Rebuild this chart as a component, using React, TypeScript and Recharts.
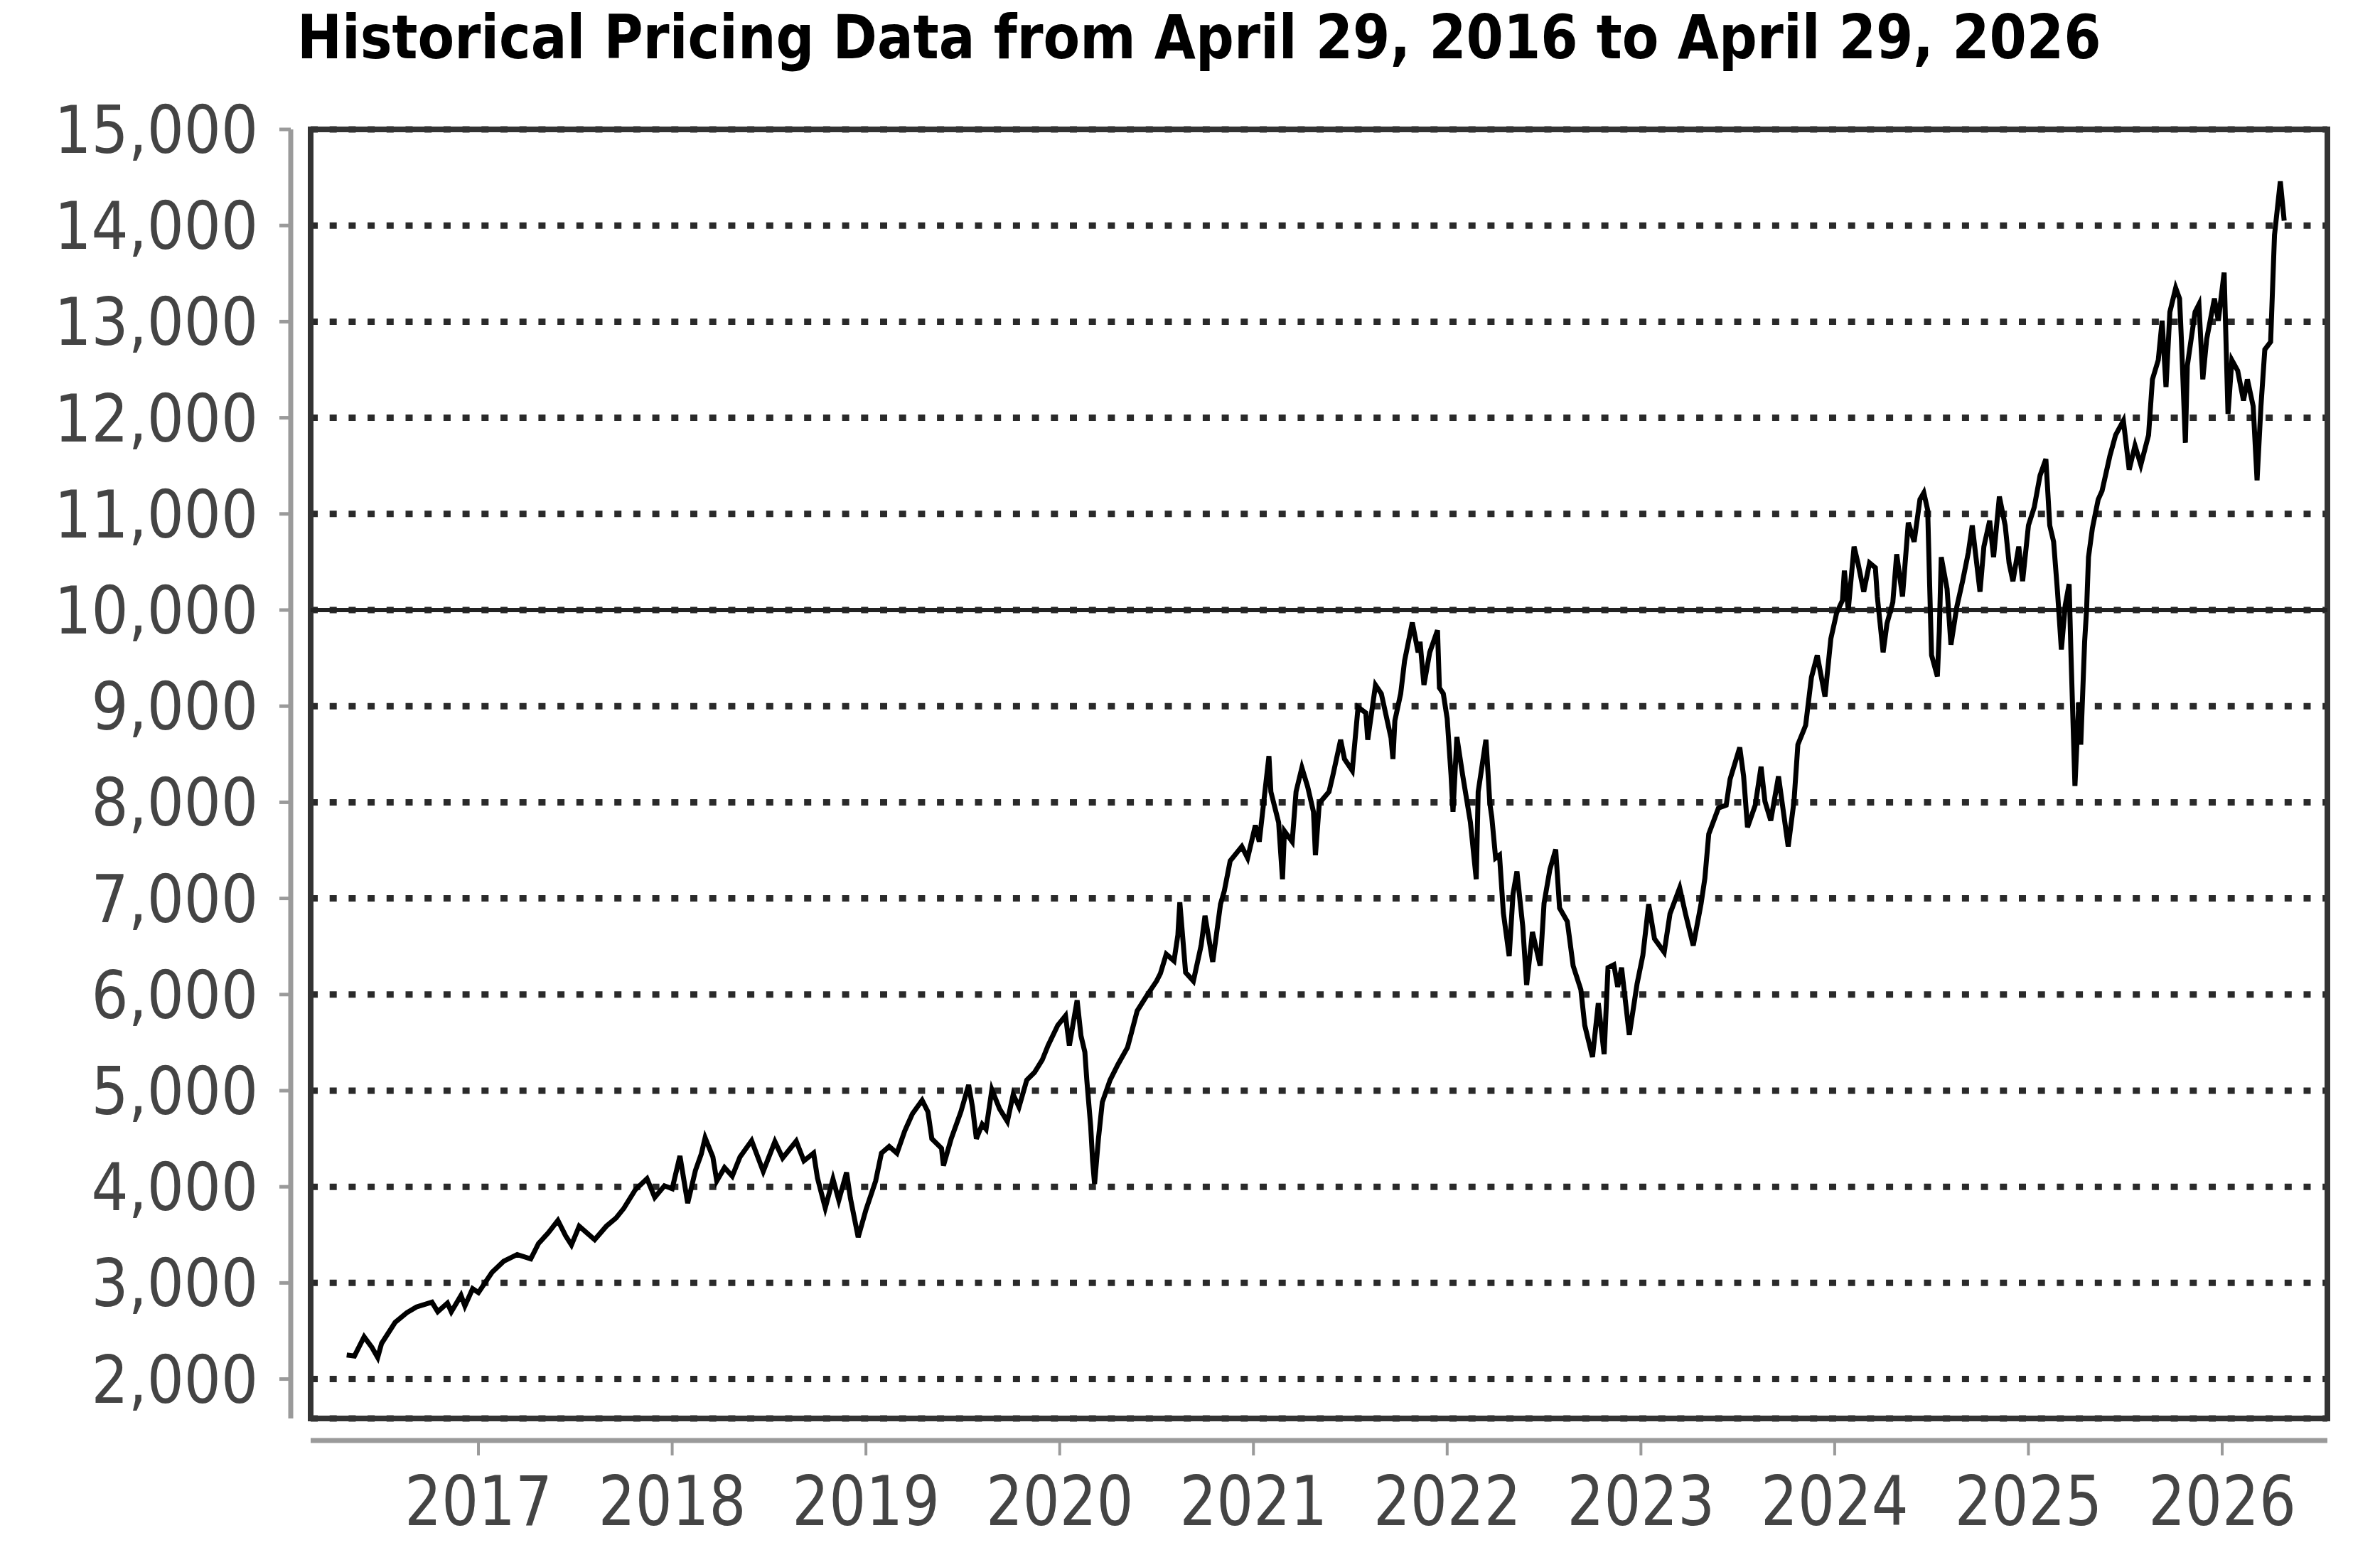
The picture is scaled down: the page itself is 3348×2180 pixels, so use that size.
import {
  CartesianGrid,
  Line,
  LineChart,
  ReferenceArea,
  ReferenceLine,
  XAxis,
  YAxis,
} from "recharts";

// decimal years (roughly weekly/bi-weekly swings)
const dates = [
  2016.32, 2016.36, 2016.41, 2016.45, 2016.48, 2016.5, 2016.57, 2016.63, 2016.68, 2016.76,
  2016.79, 2016.84, 2016.86, 2016.91, 2016.93, 2016.97, 2017.0, 2017.07, 2017.13, 2017.2,
  2017.27, 2017.31, 2017.36, 2017.41, 2017.45, 2017.48, 2017.52, 2017.6, 2017.66, 2017.71,
  2017.75, 2017.81, 2017.87, 2017.91, 2017.96, 2018.0, 2018.04, 2018.08, 2018.12, 2018.15,
  2018.17, 2018.21, 2018.23, 2018.27, 2018.31, 2018.35, 2018.41, 2018.47, 2018.53, 2018.57,
  2018.64, 2018.68, 2018.73, 2018.75, 2018.79, 2018.83, 2018.86, 2018.9, 2018.92, 2018.96,
  2019.0, 2019.05, 2019.08, 2019.12, 2019.16, 2019.2, 2019.24, 2019.29, 2019.32, 2019.34,
  2019.39, 2019.4, 2019.44, 2019.49, 2019.53, 2019.55, 2019.57, 2019.6, 2019.62, 2019.65,
  2019.69, 2019.73, 2019.76, 2019.79, 2019.83, 2019.87, 2019.91, 2019.94, 2019.99, 2020.03,
  2020.05, 2020.09, 2020.11, 2020.13, 2020.14, 2020.16, 2020.17, 2020.18, 2020.2, 2020.22,
  2020.26, 2020.3, 2020.35, 2020.37, 2020.4, 2020.45, 2020.5, 2020.52, 2020.55, 2020.59,
  2020.61, 2020.62, 2020.65, 2020.69, 2020.73, 2020.75, 2020.79, 2020.83, 2020.85, 2020.88,
  2020.94, 2020.97, 2021.01, 2021.03, 2021.08, 2021.09, 2021.13, 2021.15, 2021.16, 2021.2,
  2021.22, 2021.25, 2021.28, 2021.31, 2021.32, 2021.34, 2021.39, 2021.41, 2021.45, 2021.47,
  2021.51, 2021.54, 2021.58, 2021.59, 2021.63, 2021.66, 2021.71, 2021.72, 2021.73, 2021.76,
  2021.78, 2021.82, 2021.85, 2021.86, 2021.88, 2021.91, 2021.95, 2021.96, 2021.98, 2022.0,
  2022.02, 2022.03, 2022.05, 2022.08, 2022.12, 2022.15, 2022.16, 2022.2, 2022.21, 2022.22,
  2022.23, 2022.25, 2022.27, 2022.29, 2022.32, 2022.34, 2022.36, 2022.39, 2022.41, 2022.44,
  2022.48, 2022.5, 2022.53, 2022.56, 2022.58, 2022.62, 2022.65, 2022.69, 2022.71, 2022.75,
  2022.78, 2022.81, 2022.83, 2022.86, 2022.88, 2022.9, 2022.94, 2022.98, 2023.01, 2023.04,
  2023.07, 2023.12, 2023.15, 2023.2, 2023.23, 2023.27, 2023.31, 2023.33, 2023.35, 2023.4,
  2023.44, 2023.46, 2023.51, 2023.53, 2023.55, 2023.59, 2023.62, 2023.64, 2023.67, 2023.71,
  2023.76, 2023.79, 2023.81, 2023.85, 2023.88, 2023.91, 2023.95, 2023.98, 2024.01, 2024.04,
  2024.05, 2024.07, 2024.1, 2024.12, 2024.15, 2024.18, 2024.21, 2024.22, 2024.25, 2024.27,
  2024.3, 2024.32, 2024.35, 2024.38, 2024.41, 2024.44, 2024.46, 2024.48, 2024.49, 2024.5,
  2024.53, 2024.54, 2024.55, 2024.58, 2024.6, 2024.63, 2024.66, 2024.69, 2024.71, 2024.75,
  2024.77, 2024.8, 2024.82, 2024.85, 2024.88, 2024.9, 2024.92, 2024.95, 2024.97, 2025.0,
  2025.03, 2025.06, 2025.09, 2025.11, 2025.13, 2025.15, 2025.17, 2025.19, 2025.21, 2025.22,
  2025.24, 2025.26, 2025.27, 2025.29, 2025.3, 2025.31, 2025.33, 2025.36, 2025.38, 2025.42,
  2025.45, 2025.49, 2025.52, 2025.55, 2025.58, 2025.62, 2025.64, 2025.67, 2025.69, 2025.71,
  2025.73, 2025.76, 2025.78, 2025.79, 2025.81, 2025.82, 2025.86, 2025.88, 2025.9, 2025.92,
  2025.96, 2025.98, 2026.01, 2026.03, 2026.05, 2026.08, 2026.11, 2026.13, 2026.16, 2026.18,
  2026.2, 2026.22, 2026.25, 2026.27, 2026.3, 2026.32,
];

const prices = [
  2250, 2240, 2440, 2330, 2225, 2370, 2590, 2690, 2750, 2800,
  2700, 2790, 2700, 2870, 2760, 2940, 2900, 3110, 3225, 3295,
  3250, 3410, 3520, 3650, 3490, 3395, 3590, 3450, 3590, 3675,
  3775, 3970, 4085, 3890, 4010, 3980, 4320, 3830, 4170, 4340,
  4510, 4310, 4060, 4200, 4110, 4310, 4480, 4160, 4470, 4300,
  4475, 4270, 4350, 4090, 3780, 4080, 3860, 4150, 3880, 3475,
  3760, 4060, 4350, 4420, 4350, 4580, 4760, 4900, 4780, 4500,
  4400, 4220, 4500, 4780, 5060, 4830, 4500, 4650, 4600, 5010,
  4810, 4680, 4960, 4830, 5110, 5190, 5320, 5470, 5680, 5780,
  5470, 5940, 5570, 5400, 5110, 4630, 4270, 4030, 4500, 4880,
  5110, 5270, 5450, 5600, 5830, 5990, 6140, 6220, 6420, 6350,
  6620, 6960, 6230, 6140, 6510, 6820, 6340, 6940, 7080, 7390,
  7540, 7420, 7760, 7590, 8480, 8110, 7790, 7200, 7700, 7590,
  8110, 8360, 8160, 7900, 7450, 7990, 8110, 8280, 8650, 8450,
  8330, 8990, 8930, 8650, 9220, 9130, 8670, 8450, 8850, 9130,
  9470, 9870, 9560, 9670, 9220, 9560, 9790, 9190, 9130, 8870,
  8280, 7900, 8680, 8280, 7790, 7200, 8110, 8650, 8330, 7990,
  7850, 7420, 7450, 6850, 6400, 7050, 7280, 6710, 6100, 6650,
  6300, 6950, 7300, 7510, 6900, 6760, 6300, 6050, 5680, 5350,
  5910, 5380, 6280, 6310, 6080, 6280, 5580, 6110, 6410, 6940,
  6580, 6440, 6840, 7110, 6840, 6510, 6940, 7210, 7670, 7940,
  7970, 8240, 8570, 8270, 7740, 7970, 8370, 8010, 7810, 8270,
  7540, 8010, 8600, 8800, 9300, 9530, 9100, 9700, 9970, 10100,
  10410, 10000, 10660, 10490, 10190, 10490, 10440, 10140, 9560, 9860,
  10080, 10580, 10140, 10910, 10710, 11150, 11220, 11040, 10270, 9530,
  9310, 9780, 10550, 10220, 9640, 10030, 10300, 10600, 10880, 10190,
  10660, 10930, 10550, 11180, 10880, 10490, 10300, 10660, 10300, 10880,
  11070, 11400, 11570, 10880, 10710, 10190, 9590, 10050, 10270, 9510,
  8170, 9040, 8600, 9670, 10000, 10550, 10850, 11150, 11240, 11600,
  11820, 11970, 11460, 11710, 11510, 11820, 12400, 12600, 13010, 12320,
  13100, 13350, 13240, 12790, 11740, 12540, 13100, 13180, 12400, 12820,
  13240, 13010, 13510, 12040, 12600, 12490, 12180, 12400, 12120, 11350,
  12120, 12710, 12790, 13900, 14460, 14050,
];

const yearTicks = [2017, 2018, 2019, 2020, 2021, 2022, 2023, 2024, 2025, 2026];
const priceTicks = [
  2000, 3000, 4000, 5000, 6000, 7000, 8000, 9000, 10000, 11000, 12000, 13000,
  14000, 15000,
];

const data = dates.map((t, i) => ({ t, price: prices[i] }));

const X_DOMAIN = [2016.134, 2026.543];
const Y_DOMAIN = [1590, 15000];
const FONT = "'DejaVu Sans', sans-serif";
const AXIS_GRAY = "#9a9a9a";
const Y_GAP = 28; // y axis line sits left of the plot box
const X_GAP = 31; // x axis line sits below the plot box

function PriceTick(props: any) {
  const { x, y, payload } = props;
  const ax = x - Y_GAP;
  return (
    <g>
      <line x1={ax - 16} x2={ax} y1={y} y2={y} stroke={AXIS_GRAY} strokeWidth={5} />
      <text
        transform={`translate(${x - 74}, ${y + 33}) scale(0.89, 1)`}
        textAnchor="end"
        fill="#444"
        fontSize={92}
        fontFamily={FONT}
      >
        {Number(payload.value).toLocaleString("en-US")}
      </text>
    </g>
  );
}

function YearTick(props: any) {
  const { x, y, payload } = props;
  const ay = y + X_GAP;
  return (
    <g>
      <line x1={x} x2={x} y1={ay} y2={ay + 21} stroke={AXIS_GRAY} strokeWidth={4} />
      <text
        transform={`translate(${x}, ${y + 150}) scale(0.85, 1)`}
        textAnchor="middle"
        fill="#444"
        fontSize={96}
        fontFamily={FONT}
      >
        {String(payload.value)}
      </text>
    </g>
  );
}

export default function App() {
  return (
    <div
      style={{
        position: "absolute",
        left: 0,
        top: 0,
        width: 3348,
        height: 2180,
        background: "#fff",
      }}
    >
      <div
        style={{
          position: "absolute",
          left: 418,
          top: 10,
          fontFamily: FONT,
          fontWeight: "bold",
          fontSize: 85.5,
          lineHeight: "85.5px",
          whiteSpace: "nowrap",
          color: "#000",
          transform: "scaleX(0.88)",
          transformOrigin: "0 0",
        }}
      >
        Historical Pricing Data from April 29, 2016 to April 29, 2026
      </div>
      <LineChart
        width={3348}
        height={2180}
        data={data}
        margin={{ top: 182, right: 74, bottom: 0, left: 0 }}
      >
        <XAxis
          dataKey="t"
          type="number"
          domain={X_DOMAIN}
          ticks={yearTicks}
          interval={0}
          height={185}
          axisLine={{
            stroke: AXIS_GRAY,
            strokeWidth: 7,
            transform: `translate(0 ${X_GAP})`,
          }}
          tickLine={false}
          tickSize={0}
          tickMargin={0}
          tick={<YearTick />}
        />
        <YAxis
          type="number"
          domain={Y_DOMAIN}
          ticks={priceTicks}
          interval={0}
          width={437}
          axisLine={{
            stroke: AXIS_GRAY,
            strokeWidth: 7,
            transform: `translate(${-Y_GAP} 0)`,
          }}
          tickLine={false}
          tickSize={0}
          tickMargin={0}
          tick={<PriceTick />}
        />
        <CartesianGrid
          vertical={false}
          stroke="#2a2a2a"
          strokeWidth={9}
          strokeDasharray="10 16.7"
        />
        <ReferenceLine y={10000} stroke="#222" strokeWidth={6} />
        <Line
          type="linear"
          dataKey="price"
          stroke="#000"
          strokeWidth={7}
          dot={false}
          isAnimationActive={false}
        />
        <ReferenceArea
          x1={X_DOMAIN[0]}
          x2={X_DOMAIN[1]}
          y1={Y_DOMAIN[0]}
          y2={Y_DOMAIN[1]}
          fill="none"
          stroke="#333"
          strokeWidth={8}
          ifOverflow="visible"
        />
      </LineChart>
    </div>
  );
}
